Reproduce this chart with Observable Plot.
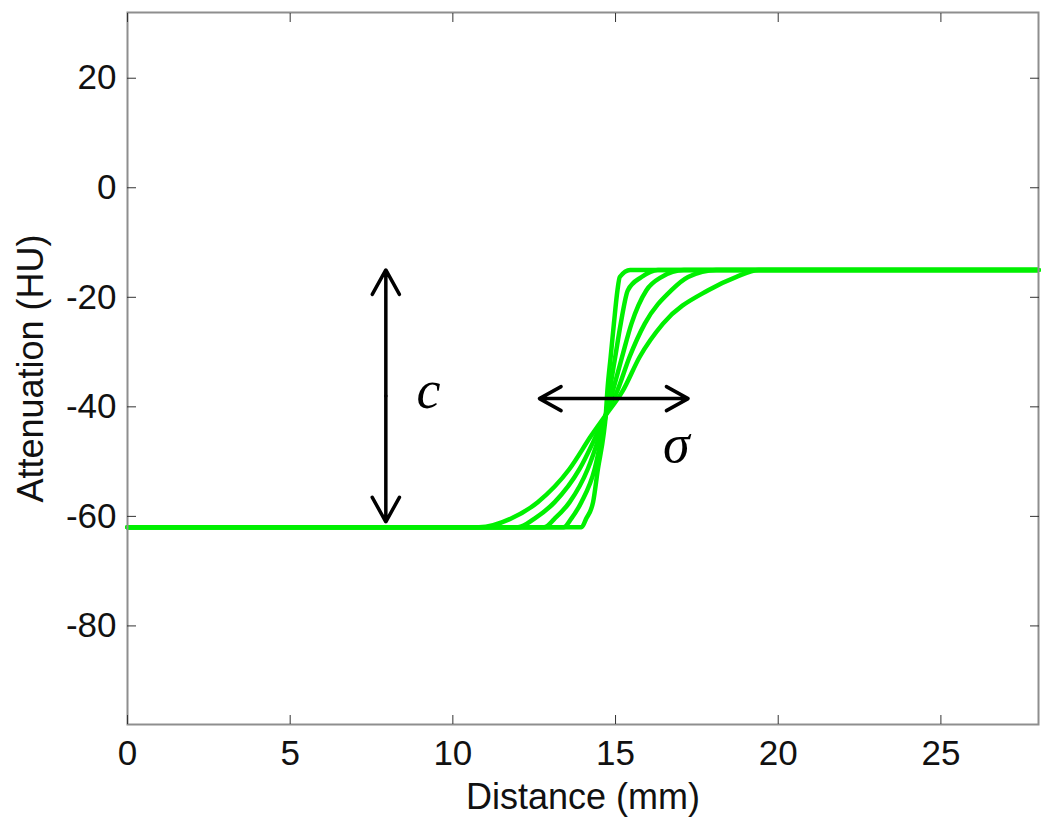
<!DOCTYPE html>
<html>
<head>
<meta charset="utf-8">
<script src="https://cdn.jsdelivr.net/npm/d3@7"></script>
<script src="https://cdn.jsdelivr.net/npm/@observablehq/plot@0.6"></script>
<style>
  html, body { margin: 0; padding: 0; background: #fff; }
  #chart { width: 1050px; height: 829px; }
</style>
</head>
<body>
<div id="chart"></div>
<script>
// ---- data ----
const xTicks = [0, 5, 10, 15, 20, 25];
const yTicks = [-80, -60, -40, -20, 0, 20];
const xLabel = "Distance (mm)";
const yLabel = "Attenuation (HU)";

// attenuation levels sampled along each edge curve (HU)
const levels = [-62, -62, -60.4, -57.4, -51.3, -45.2, -41.5, -37.0, -30.9, -24.8, -18.7, -16.3, -15, -15];
// distance (mm) at which each curve reaches the level above
const curve1X = [0, 13.95, 14.10, 14.31, 14.46, 14.63, 14.70, 14.75, 14.85, 14.95, 15.06, 15.13, 15.45, 28];
const curve2X = [0, 13.40, 13.64, 13.95, 14.36, 14.58, 14.70, 14.82, 14.99, 15.16, 15.38, 15.80, 16.30, 28];
const curve3X = [0, 12.80, 13.13, 13.59, 14.15, 14.51, 14.70, 14.92, 15.20, 15.49, 15.95, 16.41, 17.10, 28];
const curve4X = [0, 12.00, 12.51, 13.13, 13.90, 14.41, 14.70, 15.06, 15.43, 15.90, 16.72, 17.23, 18.10, 28];
const curve5X = [0, 10.80, 11.79, 12.61, 13.59, 14.26, 14.70, 15.23, 15.74, 16.46, 17.85, 18.70, 19.40, 28];

// annotation arrows: contrast c (vertical) and width sigma (horizontal)
const arrowC = {x: 7.94, yFrom: -61, yTo: -15};
const arrowSigma = {y: -38.5, xFrom: 12.66, xTo: 17.23};
const annotations = [
  {label: "c", x: 9.25, y: -38.1},
  {label: "σ", x: 16.87, y: -48.0}
];

// ---- build tables ----
const curves = [curve1X, curve2X, curve3X, curve4X, curve5X];
const lineData = curves.flatMap((xs, k) => xs.map((x, i) => ({curve: k, x, y: levels[i]})));
const arrows = [
  {x1: arrowC.x, y1: (arrowC.yFrom + arrowC.yTo) / 2, x2: arrowC.x, y2: arrowC.yTo},
  {x1: arrowC.x, y1: (arrowC.yFrom + arrowC.yTo) / 2, x2: arrowC.x, y2: arrowC.yFrom},
  {x1: (arrowSigma.xFrom + arrowSigma.xTo) / 2, y1: arrowSigma.y, x2: arrowSigma.xTo, y2: arrowSigma.y},
  {x1: (arrowSigma.xFrom + arrowSigma.xTo) / 2, y1: arrowSigma.y, x2: arrowSigma.xFrom, y2: arrowSigma.y}
];

const font = "'Liberation Sans', Arial, sans-serif";
const tickColor = "#333";
const plain = d => String(d);
const none = () => "";

const chart = Plot.plot({
  width: 1050,
  height: 829,
  marginLeft: 127,
  marginRight: 12,
  marginTop: 12,
  marginBottom: 105,
  style: {fontFamily: font, fontSize: "35px", color: "#111", background: "#fff"},
  x: {domain: [0, 28]},
  y: {domain: [-98, 32]},
  marks: [
    Plot.line(lineData, {x: "x", y: "y", z: "curve", stroke: "#00f000", strokeWidth: 4.5, curve: "monotone-x"}),
    Plot.arrow(arrows, {x1: "x1", y1: "y1", x2: "x2", y2: "y2", stroke: "#000", strokeWidth: 3.5, headLength: 12, headAngle: 58}),
    Plot.text(annotations, {x: "x", y: "y", text: "label", fontFamily: "'Liberation Serif', 'Times New Roman', serif", fontStyle: "italic", fontSize: 54, fill: "#000", dy: -6}),
    Plot.frame({stroke: "#8e8e8e", strokeWidth: 2}),
    // inward ticks on all four sides
    Plot.axisX({anchor: "bottom", ticks: xTicks, tickSize: -9, tickFormat: none, stroke: tickColor, label: null}),
    Plot.axisX({anchor: "top", ticks: xTicks, tickSize: -9, tickFormat: none, stroke: tickColor, label: null}),
    Plot.axisY({anchor: "left", ticks: yTicks, tickSize: -9, tickFormat: none, stroke: tickColor, label: null}),
    Plot.axisY({anchor: "right", ticks: yTicks, tickSize: -9, tickFormat: none, stroke: tickColor, label: null}),
    // tick labels
    Plot.text(xTicks, {x: d => d, text: plain, frameAnchor: "bottom", lineAnchor: "top", textAnchor: "middle", dy: 16, fontSize: 35, fill: "#111"}),
    Plot.text(yTicks, {y: d => d, text: plain, frameAnchor: "left", lineAnchor: "middle", textAnchor: "end", dx: -11, fontSize: 35, fill: "#111"}),
    // axis titles
    Plot.text([xLabel], {frameAnchor: "bottom", lineAnchor: "middle", textAnchor: "middle", dy: 73, fontSize: 36, fill: "#111"}),
    Plot.text([yLabel], {frameAnchor: "left", lineAnchor: "middle", textAnchor: "middle", dx: -96, rotate: -90, fontSize: 36, fill: "#111"})
  ]
});
document.getElementById("chart").appendChild(chart);
</script>
</body>
</html>
